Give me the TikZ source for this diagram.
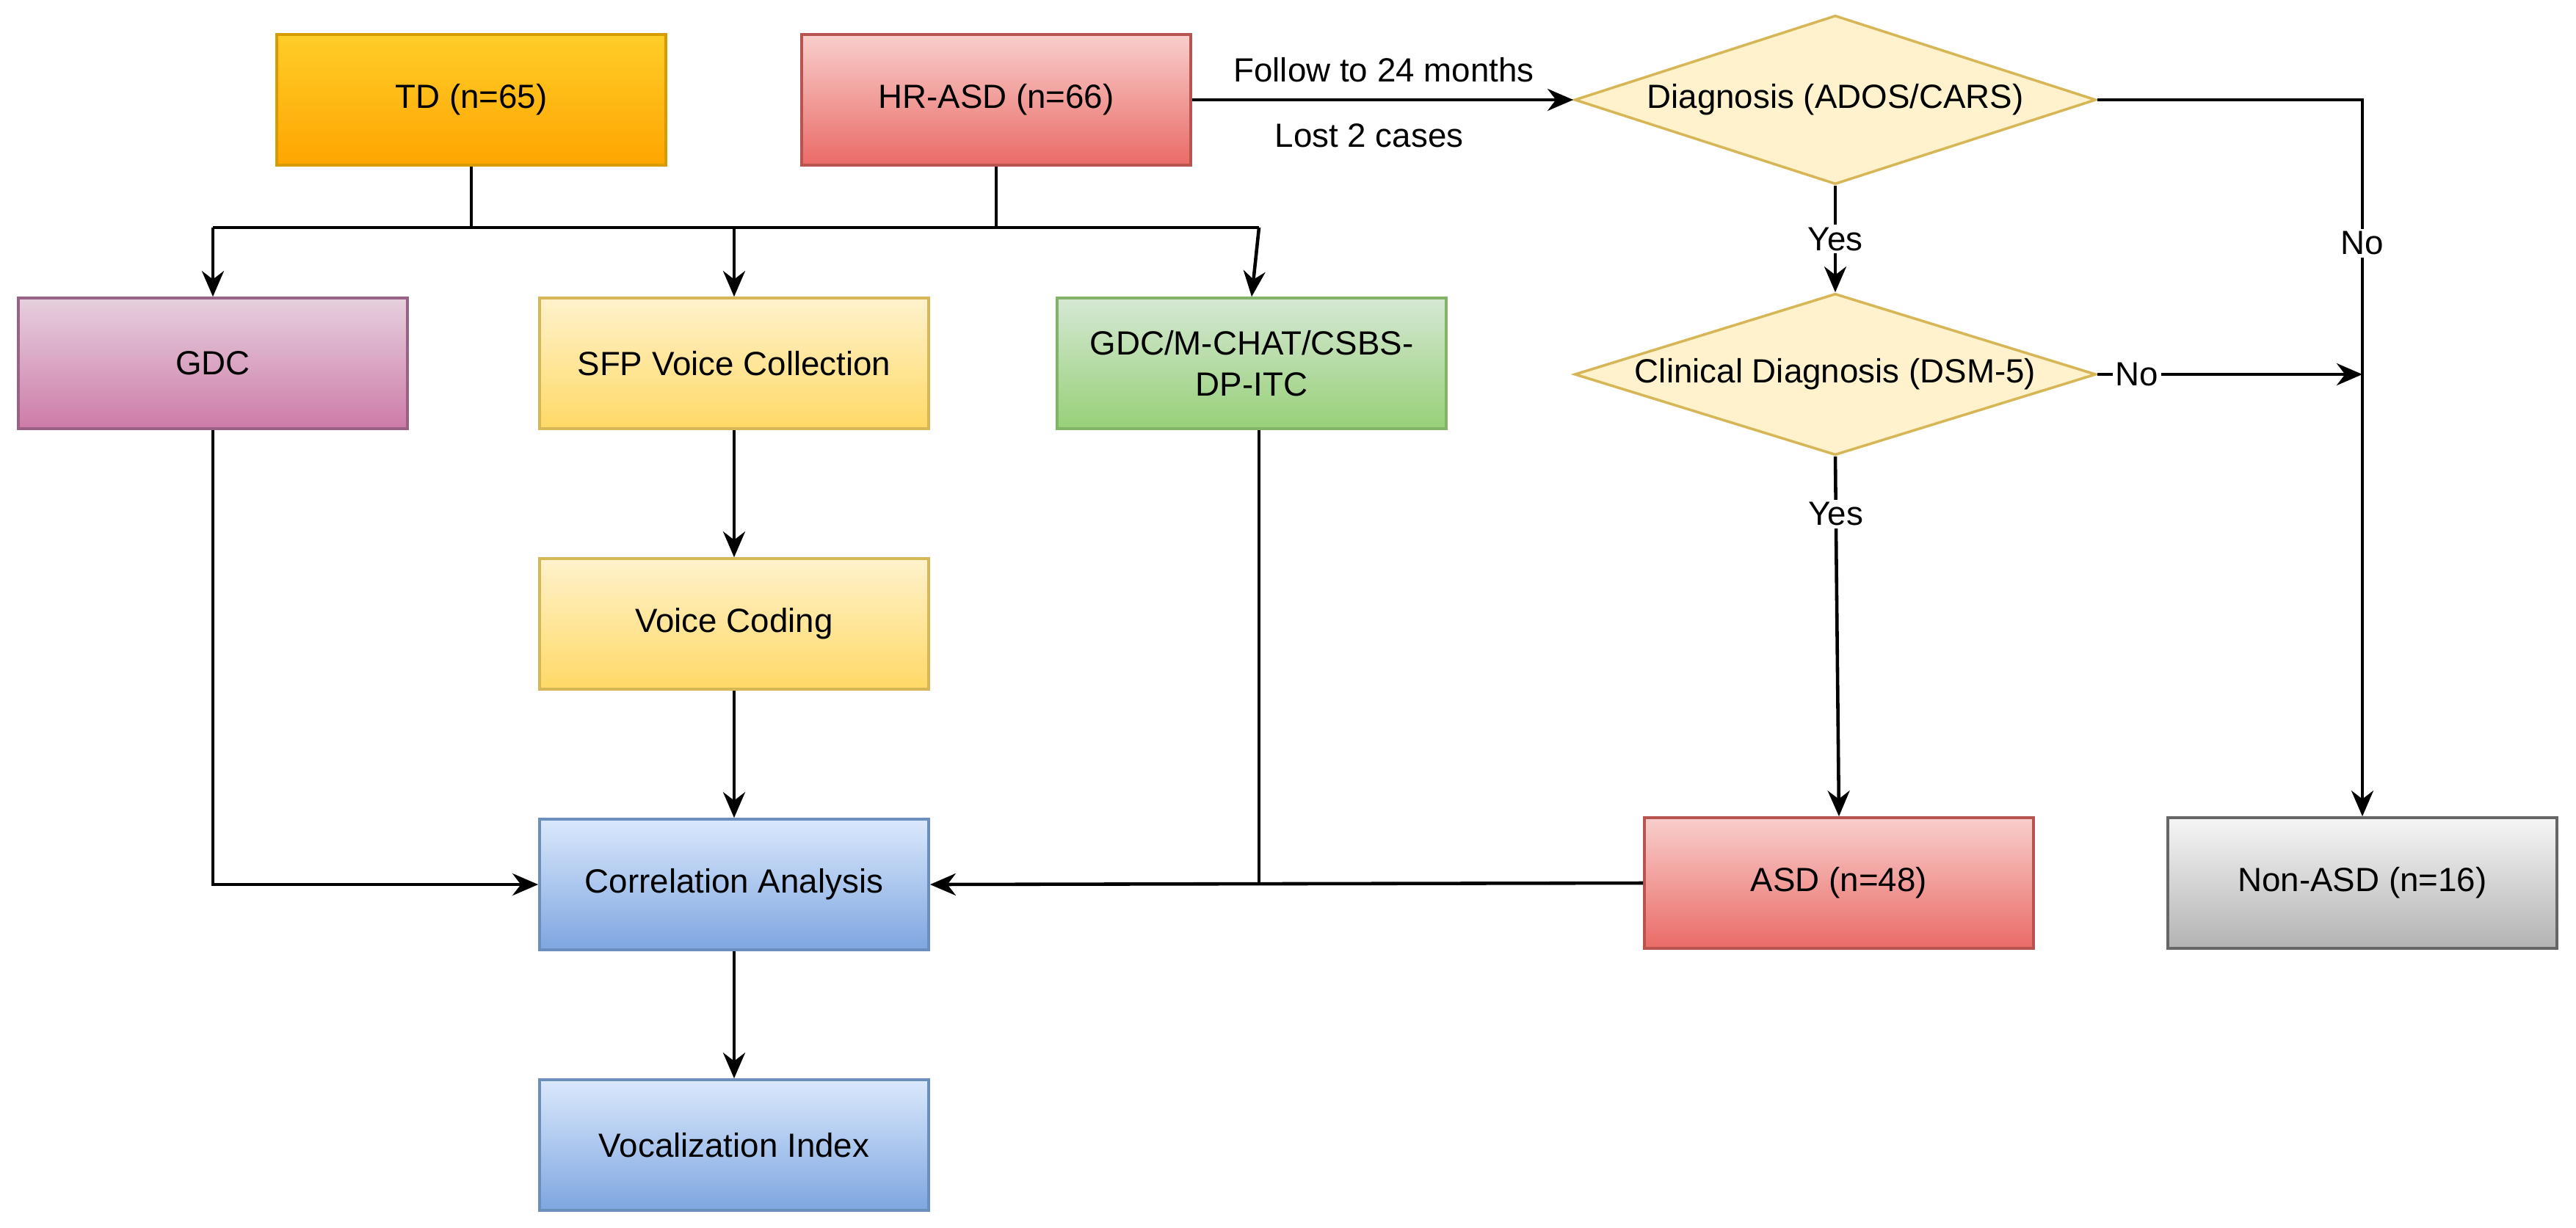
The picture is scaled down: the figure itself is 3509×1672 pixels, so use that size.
\documentclass[tikz,border=0pt]{standalone}
\usepackage{fontspec}
\setmainfont{Liberation Sans}
\usetikzlibrary{shapes.geometric,arrows.meta}
\definecolor{oT}{HTML}{FFCD28}\definecolor{oB}{HTML}{FFA500}\definecolor{oS}{HTML}{D79B00}
\definecolor{rT}{HTML}{F8CECC}\definecolor{rB}{HTML}{EA6B66}\definecolor{rS}{HTML}{B85450}
\definecolor{pT}{HTML}{E6D0DE}\definecolor{pB}{HTML}{CD7BA8}\definecolor{pS}{HTML}{996185}
\definecolor{yT}{HTML}{FFF2CC}\definecolor{yB}{HTML}{FFD966}\definecolor{yS}{HTML}{D6B656}
\definecolor{gT}{HTML}{D5E8D4}\definecolor{gB}{HTML}{97D077}\definecolor{gS}{HTML}{82B366}
\definecolor{bT}{HTML}{DAE8FC}\definecolor{bB}{HTML}{7EA6E0}\definecolor{bS}{HTML}{6C8EBF}
\definecolor{kT}{HTML}{F5F5F5}\definecolor{kB}{HTML}{B3B3B3}\definecolor{kS}{HTML}{666666}
\definecolor{dF}{HTML}{FFF2A0}
\tikzset{
 box/.style={rectangle,minimum width=5.3cm,minimum height=1.78cm,align=center,line width=1pt,font=\fontsize{13}{16}\selectfont},
 orange/.style={box,top color=oT,bottom color=oB,draw=oS},
 red/.style={box,top color=rT,bottom color=rB,draw=rS},
 pink/.style={box,top color=pT,bottom color=pB,draw=pS},
 yel/.style={box,top color=yT,bottom color=yB,draw=yS},
 grn/.style={box,top color=gT,bottom color=gB,draw=gS},
 blu/.style={box,top color=bT,bottom color=bB,draw=bS},
 gry/.style={box,top color=kT,bottom color=kB,draw=kS},
 dia/.style={diamond,aspect=3.1,minimum width=7.1cm,minimum height=2.3cm,inner sep=0pt,fill=yT,draw=yS,line width=1pt,font=\fontsize{13}{16}\selectfont},
 arr/.style={-{Stealth[length=0.35cm,width=0.3cm]},line width=1.3pt},
 ln/.style={line width=1.3pt},
 lab/.style={font=\fontsize{13}{16}\selectfont,fill=white,inner sep=1pt}
}
\begin{document}
\begin{tikzpicture}[x=0.01cm,y=-0.01cm]
\useasboundingbox (0,0) rectangle (3509,1672);
\node[orange] (td) at (642,136) {TD (n=65)};
\node[red] (hr) at (1357,136) {HR-ASD (n=66)};
\node[pink] (gdc) at (290,495) {GDC};
\node[yel] (sfp) at (1000,495) {SFP Voice Collection};
\node[grn] (gm) at (1705,495) {GDC/M-CHAT/CSBS-\\DP-ITC};
\node[yel] (vc) at (1000,850) {Voice Coding};
\node[blu] (ca) at (1000,1205) {Correlation Analysis};
\node[blu] (vi) at (1000,1560) {Vocalization Index};
\node[red] (asd) at (2505,1203) {ASD (n=48)};
\node[gry] (non) at (3218,1203) {Non-ASD (n=16)};
\node[dia] (d1) at (2500,136) {Diagnosis (ADOS/CARS)};
\node[dia,aspect=3.2,minimum height=2.2cm] (d2) at (2500,510) {Clinical Diagnosis (DSM-5)};
\coordinate (j1) at (642,310);
\coordinate (j2) at (1357,310);
\coordinate (jl) at (290,310);
\coordinate (jr) at (1715,310);
\draw[ln] (td.south) -- (j1);
\draw[ln] (hr.south) -- (j2);
\draw[ln] (jl) -- (jr);
\draw[arr] (jl) -- (gdc.north);
\draw[arr] (1000,310) -- (sfp.north);
\draw[arr] (jr) -- (gm.north);
\draw[arr] (hr.east) -- (d1.west);
\node[font=\fontsize{13}{16}\selectfont] at (1885,95) {Follow to 24 months};
\node[font=\fontsize{13}{16}\selectfont] at (1865,185) {Lost 2 cases};
\draw[arr] (d1.south) -- node[lab]{Yes} (d2.north);
\coordinate (c1) at (3218,136);
\draw[arr] (d1.east) -- (c1) -- node[lab,pos=0.2]{No} (non.north);
\coordinate (c2) at (3218,510);
\draw[arr] (d2.east) -- node[lab,pos=0.15]{No} (c2);
\draw[arr] (d2.south) -- node[lab,pos=0.16]{Yes} (asd.north);
\coordinate (g1) at (290,1205);
\draw[arr] (gdc.south) -- (g1) -- (ca.west);
\coordinate (g2) at (1715,1205);
\draw[ln] (gm.south -| g2) -- (g2);
\draw[arr] (asd.west) -- (ca.east);
\draw[arr] (sfp) -- (vc);
\draw[arr] (vc) -- (ca);
\draw[arr] (ca) -- (vi);
\end{tikzpicture}
\end{document}
